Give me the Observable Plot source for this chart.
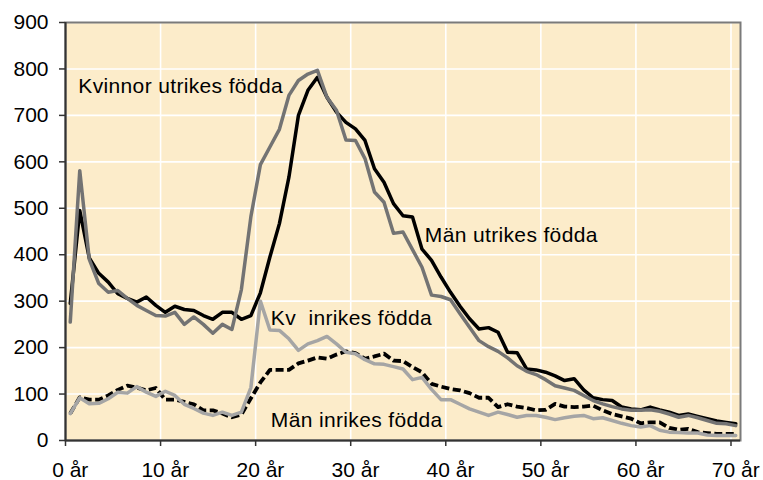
<!DOCTYPE html>
<html>
<head>
<meta charset="utf-8">
<script src="https://cdn.jsdelivr.net/npm/d3@7"></script>
<script src="https://cdn.jsdelivr.net/npm/@observablehq/plot@0.6"></script>
<style>
  html, body { margin: 0; padding: 0; background: #fff; }
  g[aria-label="text"] text { letter-spacing: 0.35px; }
</style>
</head>
<body>
<div id="chart"></div>
<script>
const ages = d3.range(0, 71);

const manUtrikes = [295,495,393,360,341,316,306,298,309,291,276,289,282,280,269,261,276,276,261,269,
  318,395,467,567,700,754,782,739,707,685,671,646,585,556,510,484,481,412,388,352,
  319,289,262,240,243,233,190,189,154,152,147,139,129,133,109,92,88,86,72,68,
  66,72,66,61,54,57,52,47,42,39,36];

const kvinnorUtrikes = [255,581,390,338,319,323,306,291,280,269,268,276,250,266,250,231,250,239,325,482,
  594,632,670,743,775,789,797,739,711,647,646,607,535,513,446,449,411,373,313,310,
  303,273,244,215,202,192,178,161,149,142,131,118,113,108,97,86,79,73,68,65,
  65,66,63,57,50,54,49,43,37,36,32];

const manInrikes = [58,93,88,88,97,109,118,114,108,113,88,88,83,78,65,65,58,50,56,91,
  125,152,152,152,166,172,179,176,185,192,188,176,181,187,172,171,158,147,122,116,
  111,108,102,92,92,72,78,73,70,65,66,79,73,72,73,75,65,57,52,47,
  37,39,39,27,23,25,18,16,14,14,14];

const kvinnorInrikes = [58,92,79,80,90,104,102,116,104,95,106,97,78,69,59,54,61,54,61,114,
  300,238,237,219,194,208,215,224,208,190,187,174,165,164,159,154,131,136,110,88,
  88,78,68,61,54,61,56,50,54,54,50,45,49,52,54,47,49,43,37,32,
  29,32,22,18,17,16,16,12,11,11,11];

const yTicks = [0,100,200,300,400,500,600,700,800,900];
const xTicks = [0,10,20,30,40,50,60,70];

const labels = [
  {text: "Kvinnor utrikes födda", age: 1.35, value: 762},
  {text: "Män utrikes födda", age: 37.8, value: 441},
  {text: "Kv\u00a0 inrikes födda", age: 21.6, value: 264},
  {text: "Män inrikes födda", age: 21.6, value: 43}
];

const seriesDefs = [
  {key: "manUtrikes", values: manUtrikes, stroke: "#000000", dash: null},
  {key: "kvUtrikes", values: kvinnorUtrikes, stroke: "#737373", dash: null},
  {key: "manInrikes", values: manInrikes, stroke: "#000000", dash: "8,3.5"},
  {key: "kvInrikes", values: kvinnorInrikes, stroke: "#a5a5a5", dash: null}
];

const rowsFor = (vals) => vals.map((v, i) => ({pos: ages[i] + 0.5, value: v}));

const lineMarks = seriesDefs.map(s => Plot.line(rowsFor(s.values), {
  x: "pos", y: "value", stroke: s.stroke, strokeWidth: s.dash ? 3.8 : 3.5,
  strokeDasharray: s.dash, strokeLinejoin: "round", strokeLinecap: s.dash ? "butt" : "round"
}));

const chart = Plot.plot({
  width: 763,
  height: 480,
  marginLeft: 65,
  marginRight: 23,
  marginTop: 22,
  marginBottom: 40,
  style: {fontFamily: "'Liberation Sans', Arial, sans-serif", fontSize: "21px", color: "#000", background: "#fff"},
  x: {domain: [0, 71], label: null},
  y: {domain: [0, 900], label: null},
  marks: [
    Plot.frame({fill: "#fcecca", stroke: null}),
    Plot.gridY(yTicks, {stroke: "#ffffff", strokeOpacity: 1, strokeWidth: 1.6}),
    Plot.gridX(xTicks.filter(d => d > 0), {stroke: "#ffffff", strokeOpacity: 1, strokeWidth: 1.6}),
    Plot.frame({stroke: "#7a7a7a", strokeWidth: 2}),
    ...lineMarks,
    Plot.ruleX([0], {stroke: "#333", strokeWidth: 2}),
    Plot.ruleY([0], {stroke: "#333", strokeWidth: 2}),
    Plot.axisY(yTicks, {tickSize: 6, tickPadding: 11, stroke: "#333", strokeWidth: 1.5, fill: "#000"}),
    Plot.axisX(xTicks, {tickSize: 6, stroke: "#333", strokeWidth: 1.5, tickFormat: () => ""}),
    Plot.axisX(xTicks, {tickSize: 0, tickPadding: 22, dx: 4.75, fill: "#000", tickFormat: d => `${d} år`}),
    Plot.text(labels, {x: "age", y: "value", text: "text", textAnchor: "start", fill: "#000", fontSize: 21})
  ]
});

document.getElementById("chart").appendChild(chart);
</script>
</body>
</html>
